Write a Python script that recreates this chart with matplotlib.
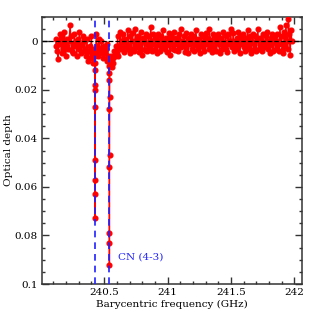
import numpy as np
import matplotlib.pyplot as plt
from matplotlib.ticker import MultipleLocator, FuncFormatter

# spectrum channels (optical depth in units of 1e-3), regular grid
f_start, f_end = 240.117, 241.98
tau_noise = [
    2, -1, 4, 7.5, 1, -3, 0, 5, -2, 3, -4, 1, 6, 2, -1, 3, 0, -6.5, -2, 4,
    1, 5, -3, 2, 0, 6, -1, 3, -4, 2, 5, 1, -2, 4, 0,
    3, 6, -1, 8, 4, 2, 7, -2, 5, 9, 3, 6,
    4, -3, 2, 6, -1, 3, 5, 0, 4, 7, 2, 5, 3, 8, 1, 6, 10,
    8, 6, 10.5, 9, 7, 4, 6, 2, 5, -2, 6, 2, -4, 3, 0,
    -3, 1.5, 4.5, -1, 0.5, 3, -4.5, 2, 5, -2,
    3, -3.5, 0, 4, 1.5, -5, 2.5, -0.5, -2, 4.5,
    1, -4, 3, 5.5, -1.5, 0, 3.5, -3, 1, 4,
    -2, 2.5, 0.5, -6, 1, 4, -3, -0.5, 3, -1.5,
    5, 1.5, -3, 0, 4, -2, 2.5, -4.5, 1, 0.5,
    3, -1.5, 4.5, -0.5, -3.5, 1.5, 5.5, -2, 0, 3,
    -4, 1, 3.5, -1.5, 0.5, 4, -3, 2, -5, 2.5,
    0, 1.5, -2, 4.5, 2.5, -3.5, 0.5, 5, -1.5, 1,
    -3, 3, 0, -2, 4, 1.5, -4.5, -0.5, 3, -1,
    1.5, 5, -3, 0.5, 2.5, -2, 4, 0, -3.5, 1,
    -1.5, 3, -5, 1.5, -0.5, 4.5, -3, 2.5, 0, -2,
    4, 0.5, -3, 1, 5, -1.5, 0, 3, -4, 1.5,
    0.5, -2, 3, 4.5, -3, 1, 0, -5, 2.5, 1.5,
    -3.5, 4, 0, 1.5, -1.5, 3, -4, 0.5, 5, -2,
    1, 0, -3, 2.5, 4, -1.5, 1.5, -4.5, 0, 3,
    -2, 5, 0.5, -3, 1, 3, -2, 4, -0.5, -5,
    3, 1.5, -1.5, 0, 4, -3, 2.5, 0.5, -2, 1,
    -4, 3, 0, 5, -1.5, 1.5, -3, 4, 0.5, -2,
    3, -3, 1.5, 0, 4, -6, 1, -2, 3, 5,
    -4, 1.5, -6.5, 0, 3, -9, -3, 5.5, -4.5, 0,
]

# absorption line channels
line_freq = [240.4250, 240.4253, 240.4256, 240.4259, 240.4262, 240.4265, 240.4268, 240.4271, 240.4274,
             240.5390, 240.5395, 240.5400, 240.5405, 240.5410, 240.5415, 240.5420, 240.5425, 240.5430, 240.5435]
line_tau = [9, 18, 27, 49, 73, 63, 57, 20, 12,
            13, 16, 28, 52, 83, 92, 79, 47, 23, 10]

line_pos = [240.426, 240.541]
line_label = 'CN (4-3)'

freq = np.concatenate([np.linspace(f_start, f_end, len(tau_noise)), line_freq])
tau = np.concatenate([tau_noise, line_tau]) / 1000.0
order = np.argsort(freq)
freq, tau = freq[order], tau[order]

plt.rcParams['font.family'] = ['DejaVu Serif']
fig = plt.figure(figsize=(3.19, 3.19), dpi=100)
ax = fig.add_axes([0.1317, 0.1097, 0.815, 0.837])

ax.plot(freq, tau, '-o', color='red', ms=3.4, lw=1.0, zorder=3)
ax.axhline(0, color='black', ls='--', lw=0.9, zorder=4)
for p in line_pos:
    ax.axvline(p, color='#2020ff', ls=(0, (4, 3)), lw=1.2, zorder=5)
ax.text(240.606, 0.089, line_label, color='#2020ff', fontsize=7.5, ha='left', va='center')

ax.set_xlim(240.01, 242.06)
ax.set_ylim(0.1, -0.01)
ax.xaxis.set_major_locator(MultipleLocator(0.5))
ax.xaxis.set_minor_locator(MultipleLocator(0.1))
ax.yaxis.set_major_locator(MultipleLocator(0.02))
ax.yaxis.set_minor_locator(MultipleLocator(0.005))
ax.xaxis.set_major_formatter(FuncFormatter(lambda v, p: '%g' % round(v, 3)))
ax.yaxis.set_major_formatter(FuncFormatter(lambda v, p: '%g' % round(v, 3)))
ax.tick_params(which='both', direction='in', top=True, right=True, labelsize=7.5, width=1.0,
               color='#333333', pad=3)
ax.tick_params(which='major', length=5)
ax.tick_params(which='minor', length=2.5)
for s in ax.spines.values():
    s.set_linewidth(1.1)
    s.set_color('#333333')

ax.set_xlabel('Barycentric frequency (GHz)', fontsize=7.5, labelpad=2)
ax.set_ylabel('Optical depth', fontsize=7.5, labelpad=1)

plt.savefig('out.png', dpi=100)
